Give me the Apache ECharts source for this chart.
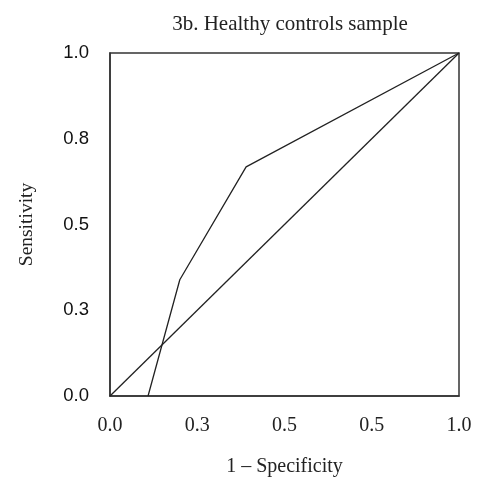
<!DOCTYPE html>
<html><head><meta charset="utf-8">
<script src="https://cdn.jsdelivr.net/npm/echarts@6/dist/echarts.min.js"></script>
<style>html,body{margin:0;padding:0;background:#fff}#c{width:480px;height:482px}</style>
</head><body><div id="c"></div>
<script>
const rocX = [0.109, 0.200, 0.390, 1.0];
const rocY = [0.0, 0.339, 0.668, 1.0];
const diagX = [0, 1];
const diagY = [0, 1];
const xTickLabels = ['0.0', '0.3', '0.5', '0.5', '1.0'];
const yTickLabels = ['0.0', '0.3', '0.5', '0.8', '1.0'];
const titleText = '3b. Healthy controls sample';
const xName = '1 \u2013 Specificity';
const yName = 'Sensitivity';

const chart = echarts.init(document.getElementById('c'), null, {renderer: 'canvas'});
const serif = '"Liberation Serif", "DejaVu Serif", serif';
const sans = '"Liberation Sans", Arial, sans-serif';
const lineColor = '#333';
function idx(v){ return Math.round(v / 0.25); }
chart.setOption({
  animation: false,
  backgroundColor: '#fff',
  title: {
    text: titleText, left: 285, top: 9, textAlign: 'center',
    textStyle: {fontFamily: serif, fontSize: 21, fontWeight: 'normal', color: '#222'}
  },
  grid: {left: 110, right: 21, top: 53, bottom: 86, outerBoundsMode: 'none', containLabel: false,
    show: true, borderColor: lineColor, borderWidth: 1.5, backgroundColor: 'transparent'},
  xAxis: {
    type: 'value', min: 0, max: 1, interval: 0.25,
    name: xName, nameLocation: 'middle', nameGap: 61,
    nameTextStyle: {fontFamily: serif, fontSize: 20, color: '#222'},
    axisLine: {show: true, lineStyle: {color: lineColor, width: 1.5}},
    axisTick: {show: false}, splitLine: {show: false},
    axisLabel: {margin: 20, fontFamily: serif, fontSize: 20, color: '#222',
      formatter: v => xTickLabels[idx(v)]}
  },
  yAxis: {
    type: 'value', min: 0, max: 1, interval: 0.25,
    name: yName, nameLocation: 'middle', nameGap: 73,
    nameTextStyle: {fontFamily: serif, fontSize: 19.5, color: '#222'},
    axisLine: {show: true, lineStyle: {color: lineColor, width: 1.5}},
    axisTick: {show: false}, splitLine: {show: false},
    axisLabel: {margin: 21, fontFamily: sans, fontSize: 18.5, color: '#111',
      formatter: v => yTickLabels[idx(v)]}
  },
  series: [
    {type: 'line', data: rocX.map((x, i) => [x, rocY[i]]), symbol: 'none',
     lineStyle: {color: '#222', width: 1.3}},
    {type: 'line', data: diagX.map((x, i) => [x, diagY[i]]), symbol: 'none',
     lineStyle: {color: '#222', width: 1.3}}
  ]
});
</script></body></html>
